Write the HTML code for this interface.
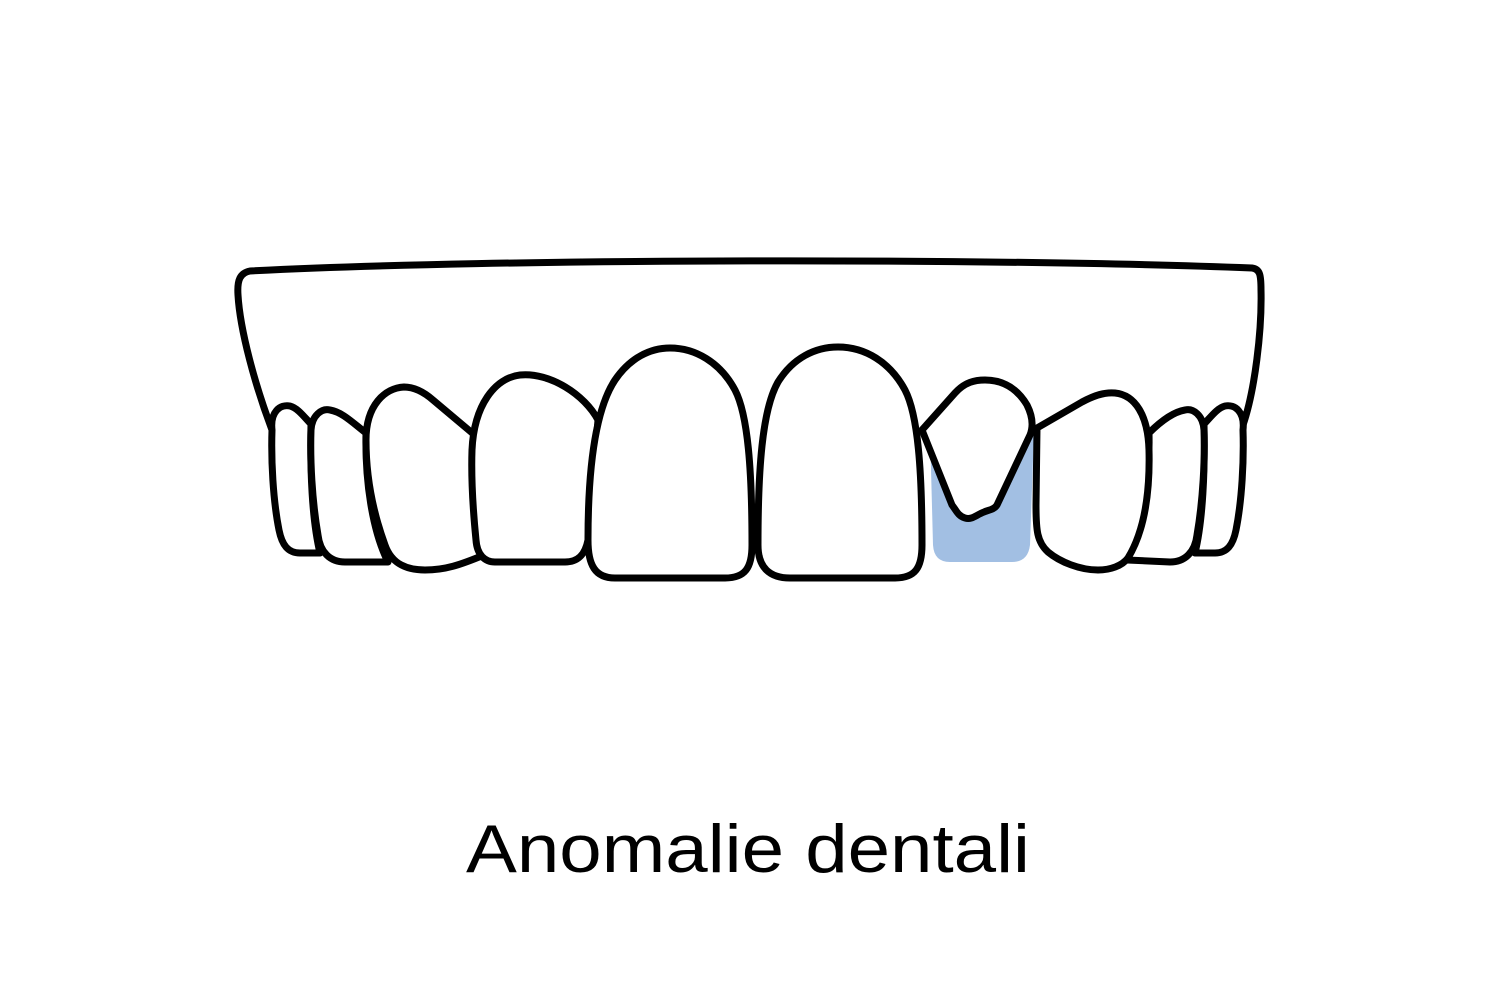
<!DOCTYPE html>
<html><head><meta charset="utf-8"><style>
html,body{margin:0;padding:0;background:#fff;}
svg{display:block}
</style></head><body>
<svg width="1500" height="1000" viewBox="0 0 1500 1000" xmlns="http://www.w3.org/2000/svg">
<g fill="#fff" stroke="#000" stroke-width="7" stroke-linejoin="round" stroke-linecap="round">
<path d="M272,430 C255,385 240,330 238,295 C237,280 240,273 250,271 C500,258 1000,258 1252,268 C1260,269 1261,275 1261,290 C1262,330 1255,390 1243,425"/>
<path d="M930,430 L1034,430 L1030,545 Q1028,562 1012,562 L950,562 Q934,562 933,545 Z" fill="#a2bfe3" stroke="none"/>
<path d="M272,430 C270,412 280,404 290,406 C298,408 305,418 311,424 C310,470 312,520 320,553 L300,553 C288,553 282,545 279,530 C273,500 271,460 272,430 Z"/>
<path d="M311,430 C312,415 322,408 330,410 C342,412 352,422 366,433 C365,480 372,530 388,562 L345,562 C330,562 320,552 318,535 C312,500 310,460 311,430 Z"/>
<path d="M366,440 C366,405 385,388 404,387 C415,387 425,393 433,400 L477,437 C475,480 475,520 484,555 C460,565 445,570 425,570 C408,570 392,565 385,545 C374,515 366,480 366,440 Z"/>
<path d="M472,450 C474,405 495,378 520,375 C550,372 585,395 598,420 L588,540 C585,555 578,562 565,562 L495,562 C485,562 477,555 476,540 C473,510 471,480 472,450 Z"/>
<path d="M1243,430 C1245,412 1235,404 1225,406 C1217,408 1210,418 1204,424 C1205,470 1203,520 1195,553 L1215,553 C1227,553 1233,545 1236,530 C1242,500 1244,460 1243,430 Z"/>
<path d="M1204,430 C1203,415 1193,408 1185,410 C1173,412 1160,422 1149,433 C1150,480 1143,530 1127,560 L1170,562 C1185,562 1195,552 1197,535 C1203,500 1205,460 1204,430 Z"/>
<path d="M1037,428 L1082,402 C1095,395 1105,392 1115,393 C1135,395 1148,415 1149,450 C1150,490 1145,530 1128,558 C1122,566 1110,570 1098,570 C1080,570 1060,562 1048,552 C1037,542 1036,530 1036,505 Z"/>
<path d="M922,430 L955,393 C965,382 975,380 985,380 C1005,380 1018,390 1027,405 C1032,415 1034,425 1030,435 L997,505 C994,510 988,510 984,512 C976,515 972,520 965,518 C958,516 956,510 952,505 Z"/>
<path d="M588,540 C588,470 595,410 615,380 C630,358 650,348 670,348 C695,348 720,362 735,390 C748,415 752,470 752,545 C752,568 745,578 725,578 L615,578 C595,578 588,565 588,540 Z"/>
<path d="M758,545 C758,470 762,410 778,382 C793,358 815,347 838,347 C865,347 890,362 905,390 C918,415 922,470 922,545 C922,568 915,578 895,578 L790,578 C770,578 758,568 758,545 Z"/>
</g>
<text x="748" y="872" text-anchor="middle" font-family="'Liberation Sans', sans-serif" font-size="68" textLength="564" lengthAdjust="spacingAndGlyphs" fill="#000">Anomalie dentali</text>
</svg>
</body></html>
